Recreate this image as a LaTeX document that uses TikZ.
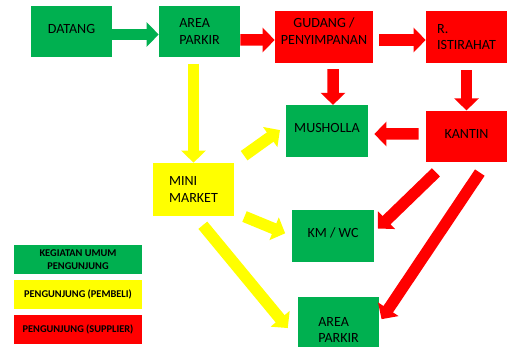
\documentclass[tikz,border=0pt]{standalone}
\usepackage{fontspec}
\setmainfont{Carlito}
\usetikzlibrary{arrows.meta}
\definecolor{kgreen}{HTML}{00B050}
\definecolor{kyellow}{HTML}{FFFF00}
\definecolor{kred}{HTML}{FF0000}

\begin{document}
\begin{tikzpicture}[x=0.2mm,y=-0.2mm,
    every node/.style={inner sep=0pt,font=\fontsize{8}{9.5}\selectfont},
    ruang/.style={minimum width=16.2mm,minimum height=10.3mm},
    angkat/.style={text depth=#1},
    legenda/.style={minimum width=25.6mm,minimum height=5.8mm,align=center,
        font=\bfseries\fontsize{5.9}{7.4}\selectfont},
    panah/.style={line width=2.3mm,-{Triangle[width=4.8mm,length=2.4mm]}},
    yarrow/.style={panah,kyellow},
    rarrow/.style={panah,kred},
    garrow/.style={panah,kgreen}]
            \useasboundingbox (0,0) rectangle (510,347);

            \node[ruang,fill=kgreen,angkat=1.2mm] (datang) at (71.5,31.5) {DATANG};
            \node[ruang,fill=kgreen,align=left] (parkir) at (199.5,31.5) {AREA\\PARKIR};
            \node[ruang,fill=kred,minimum width=19.6mm,align=center,angkat=2.4mm] (gudang) at (324,37) {GUDANG /\\PENYIMPANAN};
            \node[ruang,fill=kred,align=left] (istirahat) at (466.5,37) {R.\\ISTIRAHAT};
            \node[ruang,fill=kgreen,minimum width=16.4mm,angkat=1.2mm] (musholla) at (327,131) {MUSHOLLA};
            \node[ruang,fill=kred,angkat=1mm] (kantin) at (466.5,136.5) {KANTIN};
            \node[ruang,fill=kyellow,minimum height=10.6mm,align=left] (minimarket) at (193.5,189.5) {MINI\\MARKET};
            \node[ruang,fill=kgreen,minimum width=16.4mm,angkat=1.2mm] (kmwc) at (333,236) {KM / WC};
            \node[ruang,fill=kgreen,minimum height=13.2mm,align=left] (parkirb) at (338.5,330) {AREA\\PARKIR};

            \node[legenda,fill=kgreen] (umum) at (78,259.5) {KEGIATAN UMUM\\PENGUNJUNG};
            \node[legenda,fill=kyellow] (pembeli) at (78,294.5) {PENGUNJUNG (PEMBELI)};
            \node[legenda,fill=kred] (supplier) at (78,329.5) {PENGUNJUNG (SUPPLIER)};

            \path [garrow] ([yshift=-0.6mm]datang.east) edge ([yshift=-0.6mm]parkir.west);
            \path [rarrow] ([yshift=-1.7mm]parkir.east) edge ([yshift=-0.6mm]gudang.west);
            \path [rarrow,shorten <=1.2mm] ([yshift=-0.6mm]gudang.east) edge ([yshift=-0.6mm]istirahat.west);
            \path [rarrow,shorten <=1.2mm] ([xshift=1.8mm]gudang.south) edge ([xshift=1.2mm]musholla.north);
            \path [rarrow,shorten <=1.4mm] (istirahat) edge (kantin);
            \path [rarrow,shorten <=1.4mm,shorten >=1.2mm] ([yshift=0.5mm]kantin.west) edge ([yshift=-0.6mm]musholla.east);
            \path [rarrow,shorten <=2.8mm,shorten >=1mm] ([xshift=-4.1mm]kantin.south) edge ([yshift=0.8mm]kmwc.east);
            \path [rarrow,shorten <=2.4mm,shorten >=0.8mm] ([xshift=4mm]kantin.south) edge ([yshift=1.5mm]parkirb.east);

            \path [yarrow,shorten <=1.2mm] (minimarket.north |- parkir.south) edge (minimarket.north);
            \path [yarrow,shorten <=2.4mm,shorten >=1.4mm] (minimarket.north east) edge ([yshift=1mm]musholla.west);
            \path [yarrow,shorten <=2.2mm,shorten >=1.4mm] ([yshift=0.8mm]minimarket.south east) edge (kmwc.west);
            \path [yarrow,shorten <=2.3mm,shorten >=3.1mm] ([xshift=0.4mm]minimarket.south) edge ([yshift=-2mm]parkirb.west);
        \end{tikzpicture}
\end{document}
